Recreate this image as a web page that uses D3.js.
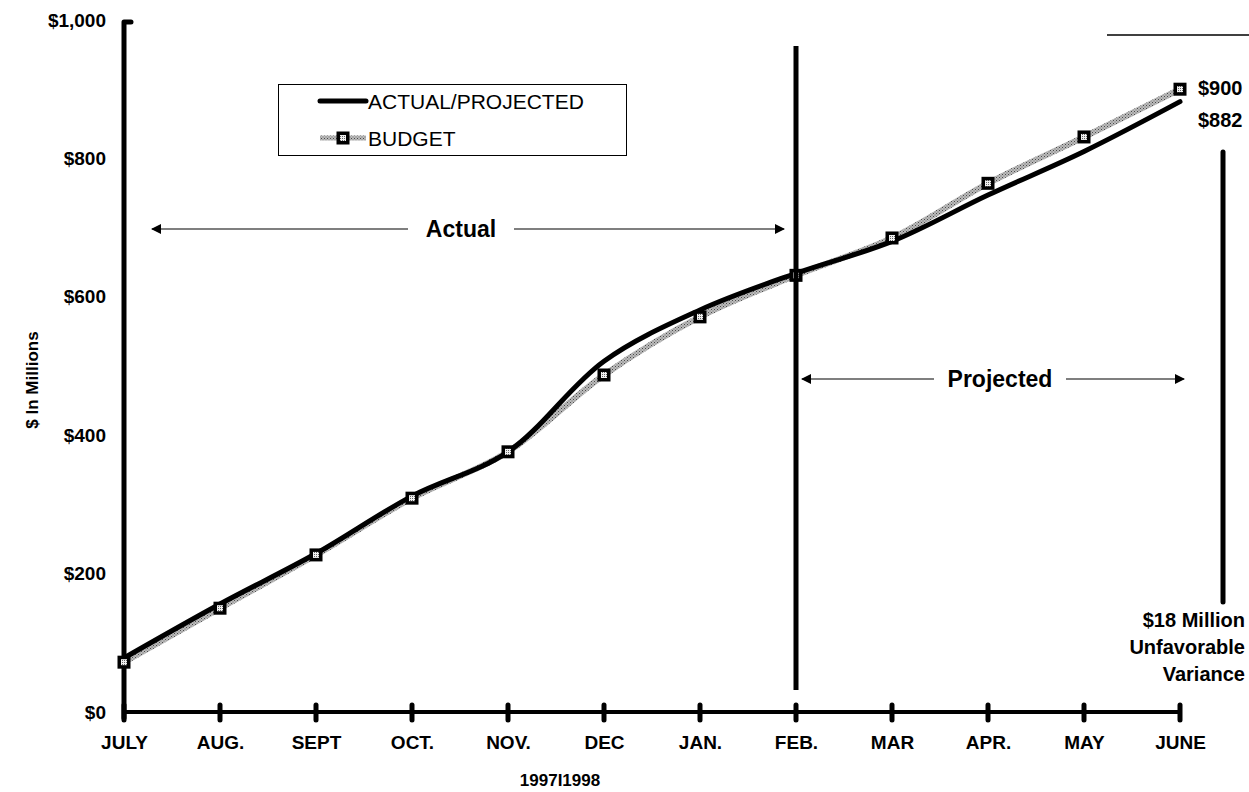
<!DOCTYPE html>
<html>
<head>
<meta charset="utf-8">
<script src="https://cdn.jsdelivr.net/npm/d3@7"></script>
<style>
  html, body { margin: 0; padding: 0; background: #fff; }
  svg { display: block; font-family: "Liberation Sans", Arial, Helvetica, sans-serif; }
</style>
</head>
<body>
<svg id="chart" width="1249" height="792"></svg>
<script>
// Fiscal-year months
const months = ["JULY", "AUG.", "SEPT", "OCT.", "NOV.", "DEC", "JAN.", "FEB.", "MAR", "APR.", "MAY", "JUNE"];
// Cumulative budget, $ millions
const budget = [72, 150, 227, 309, 376, 487, 571, 631, 685, 764, 831, 900];
// Cumulative actual (Jul–Feb) and projected (Mar–Jun), $ millions
const actualProjected = [78, 156, 229, 312, 376, 507, 581, 634, 680, 747, 810, 882];
const yTicks = [0, 200, 400, 600, 800, 1000];
const legendLabels = ["ACTUAL/PROJECTED", "BUDGET"];
const yearLabel = "1997I1998";
const yTitle = "$ In Millions";
const varianceNote = ["$18 Million", "Unfavorable", "Variance"];

const svg = d3.select("#chart");

const x = d3.scalePoint().domain(months).range([124, 1180]);
const y = d3.scaleLinear().domain([0, 1000]).range([712, 20]);

// Dithered grey stroke used for the budget series
const defs = svg.append("defs");
const pat = defs.append("pattern").attr("id", "dither")
  .attr("width", 3).attr("height", 3).attr("patternUnits", "userSpaceOnUse");
pat.append("rect").attr("width", 3).attr("height", 3).attr("fill", "#bcbcbc");
pat.append("rect").attr("width", 1).attr("height", 1).attr("fill", "#4a4a4a");
pat.append("rect").attr("x", 1.5).attr("y", 1.5).attr("width", 1).attr("height", 1).attr("fill", "#6a6a6a");

const mpat = defs.append("pattern").attr("id", "markerFill")
  .attr("width", 2).attr("height", 2).attr("patternUnits", "userSpaceOnUse");
mpat.append("rect").attr("width", 2).attr("height", 2).attr("fill", "#f0f0f0");
mpat.append("rect").attr("width", 1).attr("height", 1).attr("fill", "#666");

// Arrowheads
defs.append("marker").attr("id", "arrowEnd")
  .attr("viewBox", "0 0 10 10").attr("refX", 9).attr("refY", 5)
  .attr("markerWidth", 16).attr("markerHeight", 10).attr("markerUnits", "userSpaceOnUse")
  .attr("orient", "auto")
  .append("path").attr("d", "M0,0 L10,5 L0,10 Z").attr("fill", "#000");

// Y axis
const yAxis = d3.axisLeft(y).tickValues(yTicks).tickSize(0).tickPadding(18)
  .tickFormat(d3.format("$,"));
const gy = svg.append("g").attr("transform", "translate(124,0)").call(yAxis);
gy.select(".domain").remove();
gy.selectAll("text").attr("font-size", 19).attr("font-weight", "bold").attr("fill", "#000")
  .attr("font-family", "Liberation Sans, Arial, sans-serif");
svg.append("path").attr("d", "M124,718 V22 H131")
  .attr("fill", "none").attr("stroke", "#000").attr("stroke-width", 5)
  .attr("stroke-linejoin", "round").attr("stroke-linecap", "round");

// X axis
const xAxis = d3.axisBottom(x).tickSize(0).tickPadding(24);
const gx = svg.append("g").attr("transform", "translate(0,712)").call(xAxis);
gx.select(".domain").remove();
gx.selectAll("text").attr("font-size", 19).attr("font-weight", "bold").attr("fill", "#000")
  .attr("font-family", "Liberation Sans, Arial, sans-serif");
svg.append("line").attr("x1", 124).attr("x2", x("JUNE")).attr("y1", 712).attr("y2", 712)
  .attr("stroke", "#000").attr("stroke-width", 4);
svg.append("g").selectAll("line").data(months).join("line")
  .attr("x1", d => x(d)).attr("x2", d => x(d)).attr("y1", 705).attr("y2", 720)
  .attr("stroke", "#000").attr("stroke-width", 5).attr("stroke-linecap", "round");

svg.append("text").attr("x", 560).attr("y", 786).attr("text-anchor", "middle")
  .attr("font-size", 17).attr("font-weight", "bold").text(yearLabel);

svg.append("text").attr("transform", "translate(38,380) rotate(-90)")
  .attr("text-anchor", "middle").attr("font-size", 17).attr("font-weight", "bold").text(yTitle);

// Series lines
const line = d3.line().x((d, i) => x(months[i])).y(d => y(d)).curve(d3.curveCatmullRom.alpha(0.5));

svg.append("path").datum(budget).attr("d", line)
  .attr("fill", "none").attr("stroke", "url(#dither)").attr("stroke-width", 6);
svg.append("path").datum(actualProjected).attr("d", line)
  .attr("fill", "none").attr("stroke", "#000").attr("stroke-width", 5).attr("stroke-linecap", "round");

function drawMarker(g, cx, cy) {
  g.append("rect").attr("x", cx - 6.5).attr("y", cy - 6.5).attr("width", 13).attr("height", 13).attr("fill", "#000");
  g.append("rect").attr("x", cx - 3).attr("y", cy - 3).attr("width", 6).attr("height", 6).attr("fill", "url(#markerFill)");
}
const gm = svg.append("g");
budget.forEach((v, i) => drawMarker(gm, x(months[i]), y(v)));

// Actual / projected divider at February
svg.append("line").attr("x1", x("FEB.")).attr("x2", x("FEB.")).attr("y1", 46).attr("y2", 690)
  .attr("stroke", "#000").attr("stroke-width", 5);

// Period annotations
function periodLabel(label, x1, x2, t1, t2, cy) {
  svg.append("line").attr("x1", t1).attr("x2", x1).attr("y1", cy).attr("y2", cy)
    .attr("stroke", "#000").attr("stroke-width", 1.2).attr("marker-end", "url(#arrowEnd)");
  svg.append("line").attr("x1", t2).attr("x2", x2).attr("y1", cy).attr("y2", cy)
    .attr("stroke", "#000").attr("stroke-width", 1.2).attr("marker-end", "url(#arrowEnd)");
  svg.append("text").attr("x", (t1 + t2) / 2).attr("y", cy + 8).attr("text-anchor", "middle")
    .attr("font-size", 23).attr("font-weight", "bold").text(label);
}
periodLabel("Actual", 152, 784, 408, 514, 229);
periodLabel("Projected", 802, 1184, 934, 1066, 379);

// Legend
const lg = svg.append("g");
lg.append("rect").attr("x", 278.5).attr("y", 84.5).attr("width", 348).attr("height", 71)
  .attr("fill", "#fff").attr("stroke", "#000").attr("stroke-width", 1);
lg.append("line").attr("x1", 320).attr("x2", 366).attr("y1", 101).attr("y2", 101)
  .attr("stroke", "#000").attr("stroke-width", 5).attr("stroke-linecap", "round");
lg.append("line").attr("x1", 320).attr("x2", 366).attr("y1", 138).attr("y2", 138)
  .attr("stroke", "url(#dither)").attr("stroke-width", 5);
drawMarker(lg, 343, 138);
lg.selectAll("text.leg").data(legendLabels).join("text").attr("class", "leg")
  .attr("x", 368).attr("y", (d, i) => 109 + i * 37)
  .attr("font-size", 21).text(d => d);

// End-of-year values and variance
svg.append("text").attr("x", 1198).attr("y", 95).attr("font-size", 20).attr("font-weight", "bold")
  .text(d3.format("$,")(budget[budget.length - 1]));
svg.append("text").attr("x", 1198).attr("y", 127).attr("font-size", 20).attr("font-weight", "bold")
  .text(d3.format("$,")(actualProjected[actualProjected.length - 1]));
svg.append("line").attr("x1", 1107).attr("x2", 1249).attr("y1", 35).attr("y2", 35)
  .attr("stroke", "#000").attr("stroke-width", 1.5);
svg.append("line").attr("x1", 1223).attr("x2", 1223).attr("y1", 152).attr("y2", 602)
  .attr("stroke", "#000").attr("stroke-width", 5).attr("stroke-linecap", "round");
svg.selectAll("text.var").data(varianceNote).join("text").attr("class", "var")
  .attr("x", 1245).attr("y", (d, i) => 627 + i * 27).attr("text-anchor", "end")
  .attr("font-size", 20).attr("font-weight", "bold").text(d => d);
</script>
</body>
</html>
